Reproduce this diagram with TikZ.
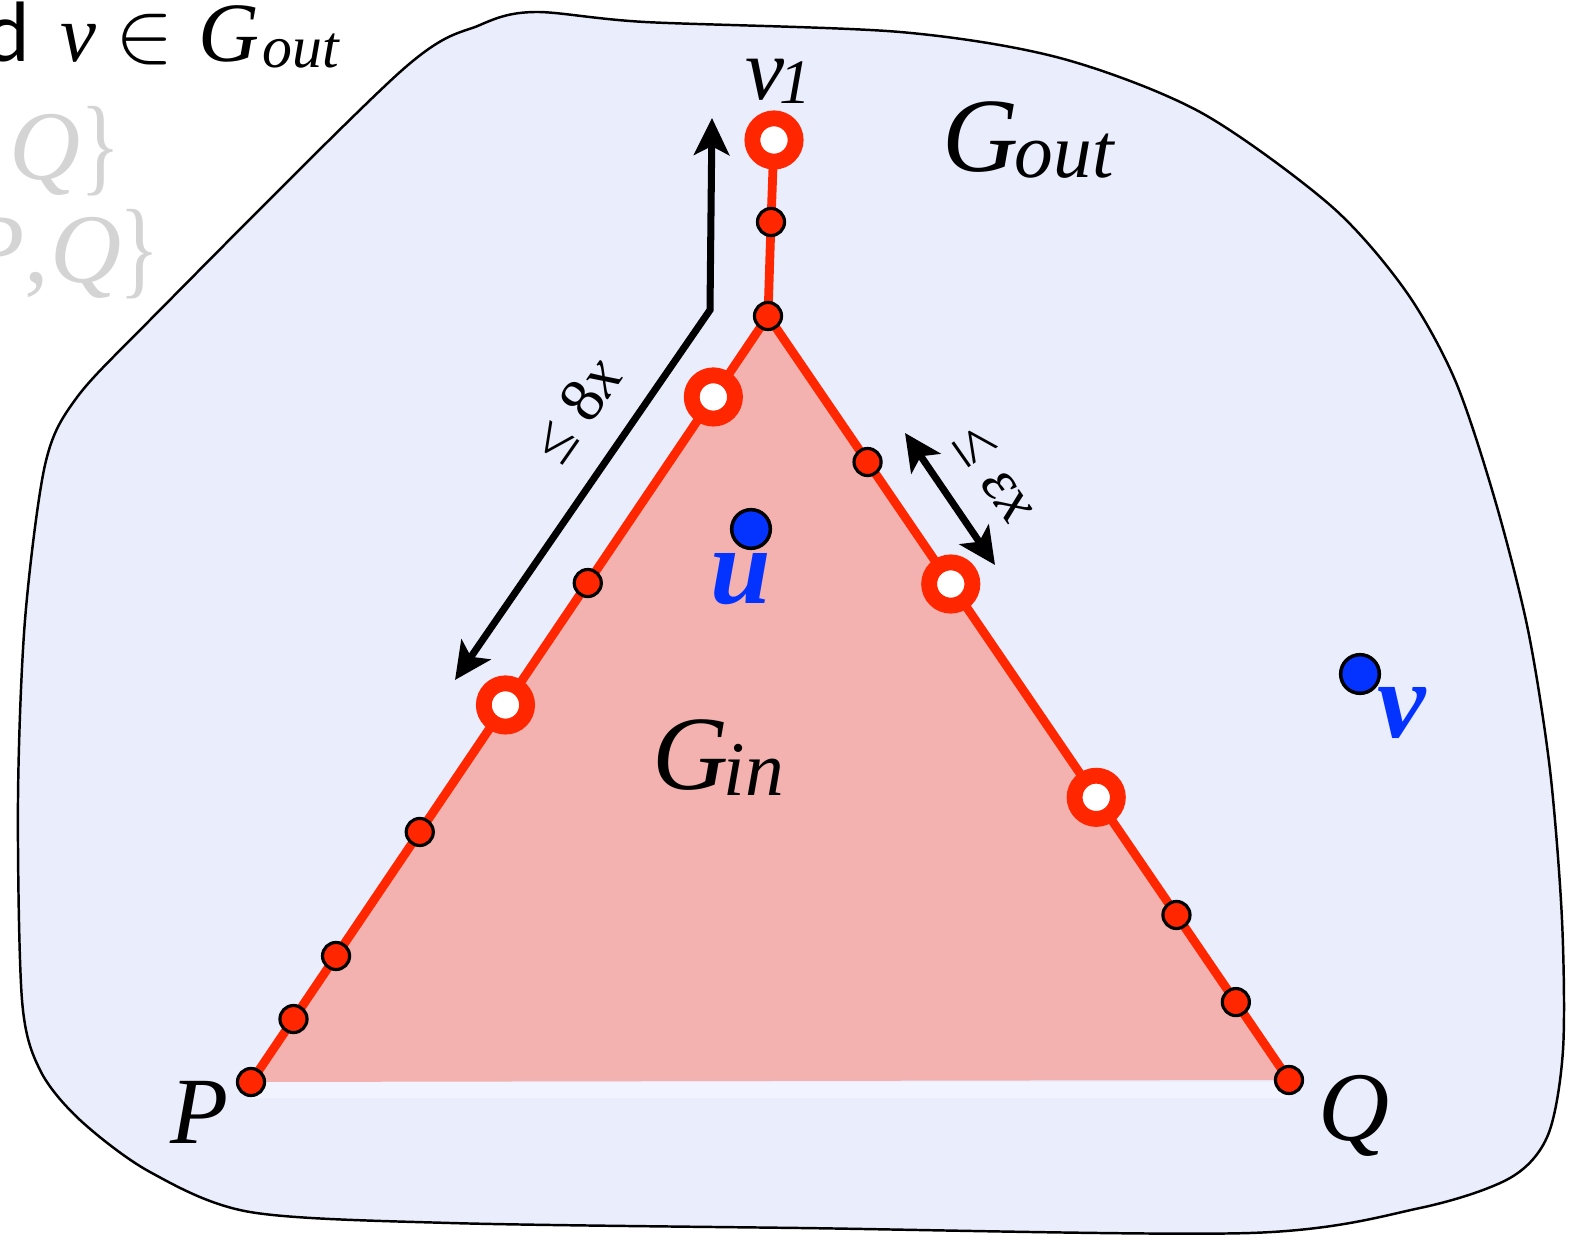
\documentclass[tikz,border=0pt]{standalone}
\usepackage{fontspec}
\usepackage{graphicx}
\setmainfont{Liberation Serif}
\newfontfamily\sansd{Lato}
\usetikzlibrary{arrows.meta,calc}
\definecolor{bluebg}{RGB}{234,237,252}
\definecolor{stripc}{RGB}{241,243,254}
\definecolor{pinkin}{RGB}{243,178,175}
\definecolor{redc}{RGB}{255,38,0}
\definecolor{bluec}{RGB}{4,51,255}
\definecolor{greyt}{RGB}{212,212,212}
\tikzset{
  redline/.style={draw=redc, line width=2.5pt, line join=round},
  dotn/.style={circle, draw=black, line width=0.9pt, fill=redc, minimum size=7.7pt, inner sep=0pt},
  ringn/.style={circle, draw=redc, line width=4.5pt, fill=white, minimum size=12.3pt, inner sep=0pt},
  bdot/.style={circle, draw=black, line width=1pt, fill=bluec, minimum size=11pt, inner sep=0pt},
  arr/.style={line width=2pt, line join=miter, {Stealth[length=10.5pt,width=10pt,inset=2.5pt]}-{Stealth[length=10.5pt,width=10pt,inset=2.5pt]}},
  lbl/.style={inner sep=0pt, anchor=base west},
  greytxt/.style={inner sep=0pt, anchor=base west, text=greyt, font=\fontsize{28}{32}\selectfont},
}
\begin{document}
\begin{tikzpicture}[x=0.01cm,y=-0.01cm]
\clip (0,0) rectangle (1575,1243);
\fill[white] (0,0) rectangle (1575,1243);
% outer region
\draw[line width=0.7pt, fill=bluebg] plot[smooth cycle, tension=0.5] coordinates {
 (535,12) (645,22) (900,32) (1060,58) (1200,112) (1330,205) (1405,290) (1455,380)
 (1495,500) (1528,630) (1550,770) (1562,920) (1563,1050) (1548,1135) (1510,1178)
 (1420,1208) (1250,1233) (800,1228) (450,1223) (250,1212) (150,1172)
 (80,1120) (40,1070) (22,1000) (18,800) (25,620) (45,465) (75,400) (150,320) (400,72) (480,25)};
% key coordinates
\coordinate (A) at (768,316);
\coordinate (P) at (251,1082);
\coordinate (Q) at (1289,1080);
\coordinate (V1) at (774,140);
\coordinate (D0) at (771,222);
% triangle
\fill[pinkin] (A) -- (P) -- (Q) -- cycle;
\fill[stripc] (P) rectangle ($(Q)+(0,18)$);
\draw[redline] (V1) -- (D0) -- (A);
\draw[redline] (P) -- (A) -- (Q);
% positions on sides
\coordinate (L1) at ($(A)!0.1057!(P)$);
\coordinate (L2) at ($(A)!0.3486!(P)$);
\coordinate (L3) at ($(A)!0.5078!(P)$);
\coordinate (L4) at ($(A)!0.6736!(P)$);
\coordinate (L5) at ($(A)!0.8355!(P)$);
\coordinate (L6) at ($(A)!0.9178!(P)$);
\coordinate (R1) at ($(A)!0.1911!(Q)$);
\coordinate (R2) at ($(A)!0.3508!(Q)$);
\coordinate (R3) at ($(A)!0.6300!(Q)$);
\coordinate (R4) at ($(A)!0.7840!(Q)$);
\coordinate (R5) at ($(A)!0.8980!(Q)$);
% vertices
\node[ringn] (nv1) at (V1) {};
\node[dotn] (nd0) at (D0) {};
\node[dotn] (nA) at (A) {};
\node[ringn] (nl1) at (L1) {};
\node[dotn] (nl2) at (L2) {};
\node[ringn] (nl3) at (L3) {};
\node[dotn] (nl4) at (L4) {};
\node[dotn] (nl5) at (L5) {};
\node[dotn] (nl6) at (L6) {};
\node[dotn] (nP) at (P) {};
\node[dotn] (nr1) at (R1) {};
\node[ringn] (nr2) at (R2) {};
\node[ringn] (nr3) at (R3) {};
\node[dotn] (nr4) at (R4) {};
\node[dotn] (nr5) at (R5) {};
\node[dotn] (nQ) at (Q) {};
% blue points
\node[bdot] (bu) at (751,529) {};
\node[bdot] (bv) at (1360,674) {};
\node[lbl, text=bluec, font=\fontsize{31}{36}\selectfont\bfseries\itshape] (lu) at (710,604) {u};
\node[lbl, text=bluec, font=\fontsize{31}{36}\selectfont\bfseries\itshape] (lv) at (1377,738) {v};
% arrows
\coordinate (a1s) at (455,680);
\coordinate (a1m) at (710,310);
\coordinate (a1e) at (712,118);
\draw[arr] (a1s) -- (a1m) -- (a1e);
\coordinate (a2s) at (905,433);
\coordinate (a2e) at (995,565);
\draw[arr] (a2s) -- (a2e);
\node[rotate=55, inner sep=0pt, font=\fontsize{18}{20}\selectfont] (l8x) at (576,410) {≤ 8\textit{x}};
\node[rotate=-55, inner sep=0pt, font=\fontsize{18}{20}\selectfont] (lex) at (995,474) {≤ \textit{εx}};
% labels
\node[lbl, font=\fontsize{25}{28}\selectfont\itshape] (lv1) at (745,100) {v};
\node[lbl, font=\fontsize{18}{20}\selectfont\itshape] (lv1s) at (779,104) {1};
\node[lbl, font=\fontsize{30}{36}\selectfont\itshape] (lgo) at (942,172) {G};
\node[lbl, font=\fontsize{22}{26}\selectfont\itshape] (lgos) at (1014,178) {out};
\node[lbl, font=\fontsize{30}{36}\selectfont\itshape] (lgi) at (652,790) {G};
\node[lbl, font=\fontsize{22}{26}\selectfont\itshape] (lgis) at (723,796) {in};
\node[lbl, font=\fontsize{27}{32}\selectfont\itshape] (lP) at (170,1143) {P};
\node[lbl, font=\fontsize{28}{32}\selectfont\itshape] (lQ) at (1318,1140) {Q};
% clipped text top-left
\node[inner sep=0pt, anchor=base east, font=\sansd\fontsize{23}{28}\selectfont] (td) at (30,62) {d};
\node[lbl, font=\fontsize{23}{26}\selectfont\itshape] (tv) at (60,62) {v};
\node[lbl, font=\fontsize{29}{30}\selectfont] (tin) at (115,62) {$\in$};
\node[lbl, font=\fontsize{24}{28}\selectfont\itshape] (tG) at (198,62) {G};
\node[lbl, font=\fontsize{17}{20}\selectfont\itshape] (tout) at (262,68) {out};
\node[greytxt] (tq1) at (9,180) {\textit{Q}};
\node[greytxt] (tb1) at (80,182) {\scalebox{0.85}[1.1]{\}}};
\node[greytxt] (tq2) at (50,283) {\textit{Q}};
\node[greytxt] (tb2) at (119,285) {\scalebox{0.85}[1.1]{\}}};
\node[greytxt, anchor=base east] (tp2) at (tq2.base west) {\textit{P},};
\end{tikzpicture}
\end{document}
